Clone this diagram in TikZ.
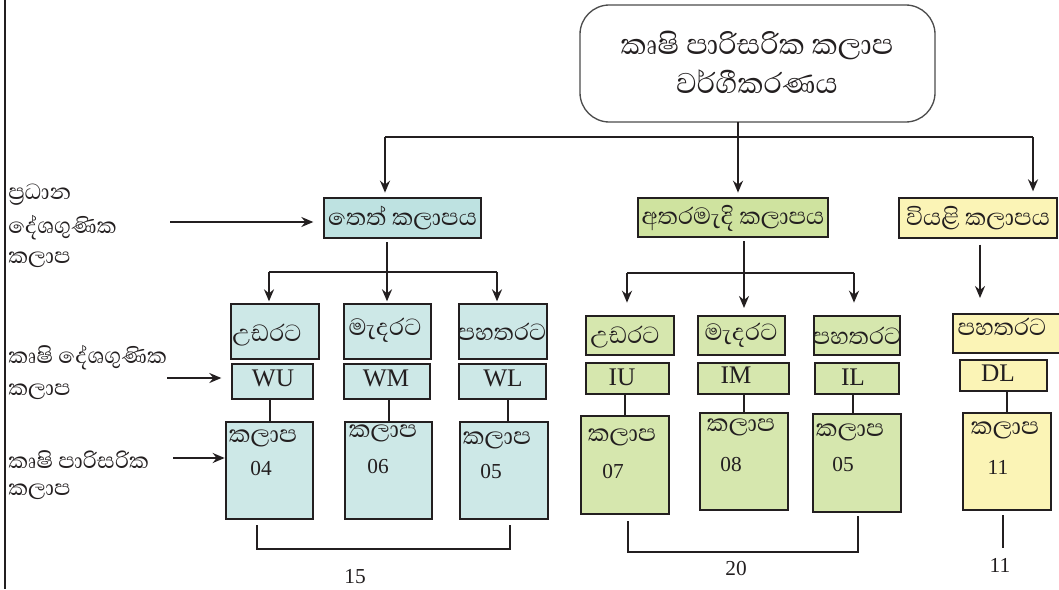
\documentclass[tikz,border=0pt]{standalone}
\usepackage{fontspec}
\setmainfont{Liberation Serif}
\newfontfamily\sinhalafont[Script=Sinhala]{Abhaya Libre}
\usetikzlibrary{arrows.meta}
\definecolor{wetc}{HTML}{CDE8E7}
\definecolor{wetd}{HTML}{BEE2E1}
\definecolor{midc}{HTML}{D6E7AE}
\definecolor{midd}{HTML}{CFE39F}
\definecolor{drc}{HTML}{FBF4B6}
\definecolor{ink}{HTML}{231F20}
\newcommand\bx[6]{\node[#2, minimum width={(#5-#3)*0.75pt}, minimum height={(#6-#4)*0.75pt}] (#1) at ({(#3+#5)/2},{(#4+#6)/2}) {};}
\begin{document}
\begin{tikzpicture}[x=0.75pt,y=-0.75pt,
  box/.style={draw=ink, line width=2.2pt, inner sep=0pt, outer sep=0pt},
  wetb/.style={box, fill=wetc},
  wetl/.style={box, fill=wetd},
  midb/.style={box, fill=midc},
  midl/.style={box, fill=midd},
  dryb/.style={box, fill=drc},
  topb/.style={draw=black!70, line width=1pt, rounded corners=22pt, inner sep=0pt, outer sep=0pt},
  conn/.style={draw=ink, line width=1.5pt},
  arr/.style={conn, -{Stealth[length=9pt, width=7.5pt, inset=3pt]}},
  si/.style={font=\sinhalafont\fontsize{22.5}{26}\selectfont, inner sep=0pt, text=ink},
  sk/.style={font=\sinhalafont\fontsize{23}{26}\selectfont, inner sep=0pt, text=ink},
  sbig/.style={font=\sinhalafont\fontsize{27.5}{32}\selectfont, inner sep=0pt, text=ink},
  sl/.style={font=\sinhalafont\fontsize{21}{24}\selectfont, inner sep=0pt, text=ink, anchor=west},
  la/.style={font=\fontsize{19}{22}\selectfont, inner sep=0pt, text=ink},
  num/.style={font=\fontsize{16}{19}\selectfont, inner sep=0pt, text=ink},
]
\useasboundingbox (0,0) rectangle (1059,589);
\draw[ink, line width=2pt] (5,0) -- (5,589);

% top box
\bx{top}{topb}{580}{5}{935}{122}
\node[sbig] (t1) at (757,45) {කෘෂි පාරිසරික කලාප};
\node[sbig] (t2) at (757,82) {වර්ගීකරණය};

% level 1
\bx{wet}{wetl}{324}{198}{481}{238}
\node[si] (wett) at ({(324+481)/2},218) {තෙත් කලාපය};
\bx{mid}{midl}{638}{198}{828}{237}
\node[si] (midt) at (733,218) {අතරමැදි කලාපය};
\bx{dry}{dryb}{899}{198}{1057}{238}
\node[si] (dryt) at (978,218) {වියළි කලාපය};

% top connectors
\coordinate (jL) at (385,137);
\coordinate (jR) at (1033,137);
\coordinate (jM) at (738,137);
\draw[conn] (jL) -- (jR);
\draw[arr, shorten >=4pt] (jL) -- (wet.north -| jL);
\draw[arr, shorten >=4pt] (top.south -| jM) -- (mid.north -| jM);
\draw[arr, shorten >=5pt] (jR) -- (dry.north -| jR);

% left labels
\node[sl] (l1a) at (8,195) {ප්^^^^200dරධාන};
\node[sl] (l1b) at (8,228) {දේශගුණික};
\node[sl] (l1c) at (8,260) {කලාප};
\node[sl] (l2a) at (8,358) {කෘෂි දේශගුණික};
\node[sl] (l2b) at (8,392) {කලාප};
\node[sl] (l3a) at (8,460) {කෘෂි පාරිසරික};
\node[sl] (l3b) at (8,492) {කලාප};

% wet level 2
\bx{wu1}{wetb}{231}{304}{319}{359}
\bx{wm1}{wetb}{344}{304}{431}{359}
\bx{wl1}{wetb}{459}{304}{547}{359}
\node[si] at (267,335) {උඩරට};
\node[si] at (385,330) {මැදරට};
\node[si] at (502,332) {පහතරට};
\bx{wu2}{wetb}{232}{364}{313}{399}
\bx{wm2}{wetb}{344}{364}{430}{399}
\bx{wl2}{wetb}{459}{364}{546}{399}
\node[la] at (273,378) {WU};
\node[la] at (386,378) {WM};
\node[la] at (503,378) {WL};
\bx{wk1}{wetb}{226}{422}{313}{519}
\bx{wk2}{wetb}{345}{422}{432}{519}
\bx{wk3}{wetb}{460}{422}{548}{519}
\node[sk] at (263,438) {කලාප};
\node[num] at (261,469) {04};
\node[sk] at (383,433) {කලාප};
\node[num] at (378,467) {06};
\node[sk] at (497,440) {කලාප};
\node[num] at (491,472) {05};

\coordinate (wj) at (387,272);
\coordinate (wjL) at (269,272);
\coordinate (wjR) at (497,272);
\draw[conn] (wjL) -- (wjR);
\draw[arr, shorten <=3pt, shorten >=2pt] (wet.south -| wj) -- (wm1.north -| wj);
\draw[arr, shorten >=2pt] (wjL) -- (wu1.north -| wjL);
\draw[arr, shorten >=2pt] (wjR) -- (wl1.north -| wjR);
\draw[conn] (wu2.south -| wk1.north) -- (wk1.north);
\draw[conn] (wm2.south -| wk2.north) -- (wk2.north);
\draw[conn] ([xshift=3pt]wl2.south -| wk3.north) -- ([xshift=3pt]wk3.north);

% mid level 2
\bx{iu1}{midb}{586}{316}{674}{355}
\bx{im1}{midb}{698}{316}{785}{355}
\bx{il1}{midb}{814}{316}{900}{355}
\node[si] at (625,337) {උඩරට};
\node[si] at (741,335) {මැදරට};
\node[si] at (857,336) {පහතරට};
\bx{iu2}{midb}{586}{363}{669}{394}
\bx{im2}{midb}{698}{363}{789}{394}
\bx{il2}{midb}{815}{363}{899}{394}
\node[la] at (622,377) {IU};
\node[la] at (736,375) {IM};
\node[la] at (853,377) {IL};
\bx{ik1}{midb}{581}{416}{669}{514}
\bx{ik2}{midb}{700}{413}{788}{510}
\bx{ik3}{midb}{813}{414}{901}{512}
\node[sk] at (622,437) {කලාප};
\node[num] at (613,472) {07};
\node[sk] at (741,427) {කලාප};
\node[num] at (731,465) {08};
\node[sk] at (850,432) {කලාප};
\node[num] at (843,465) {05};

\coordinate (ij) at (744,273);
\coordinate (ijL) at (627,273);
\coordinate (ijR) at (854,273);
\draw[conn] (ijL) -- (ijR);
\draw[arr, shorten <=3pt, shorten >=6pt] (mid.south -| ij) -- (im1.north -| ij);
\draw[arr, shorten >=10pt] (ijL) -- (iu1.north -| ijL);
\draw[arr, shorten >=10pt] (ijR) -- (il1.north -| ijR);
\draw[conn] (iu2.south -| ik1.north) -- (ik1.north);
\draw[conn] (im2.south -| ik2.north) -- (ik2.north);
\draw[conn] ([xshift=-3pt]il2.south -| ik3.north) -- ([xshift=-3pt]ik3.north);

% dry level 2
\bx{dl1}{dryb}{953}{314}{1062}{353}
\node[si] at (1002,327) {පහතරට};
\bx{dl2}{dryb}{960}{360}{1047}{391}
\node[la] at (998,373) {DL};
\bx{dk1}{dryb}{963}{413}{1051}{510}
\node[sk] at (1005,430) {කලාප};
\node[num] at (998,467) {11};
\coordinate (dj) at (980,238);
\draw[arr, shorten <=5pt, shorten >=12pt] (dry.south -| dj) -- (dl1.north -| dj);
\draw[conn] (dl2.south -| dk1.north) -- (dk1.north);

% left arrows
\coordinate (a1) at (170,222);
\coordinate (a2) at (167,378);
\coordinate (a3) at (173,458);
\draw[arr, shorten >=8pt] (a1) -- (wet.west |- a1);
\draw[arr, shorten >=8pt] (a2) -- (wu2.west |- a2);
\draw[arr, shorten >=1pt] (a3) -- (wk1.west |- a3);

% brackets and totals
\coordinate (wb1) at (257,525);
\coordinate (wb2) at (257,549);
\coordinate (wb3) at (510,549);
\coordinate (wb4) at (510,525);
\draw[conn] (wb1) -- (wb2) -- (wb3) -- (wb4);
\node[num] (s15) at (355,577) {15};
\coordinate (ib1) at (628,521);
\coordinate (ib2) at (628,552);
\coordinate (ib3) at (858,552);
\coordinate (ib4) at (858,516);
\draw[conn] (ib1) -- (ib2) -- (ib3) -- (ib4);
\node[num] (s20) at (736,569) {20};
\coordinate (db1) at (1003,515);
\coordinate (db2) at (1003,548);
\draw[conn] (db1) -- (db2);
\node[num] (s11) at (1000,565) {11};
\end{tikzpicture}
\end{document}
